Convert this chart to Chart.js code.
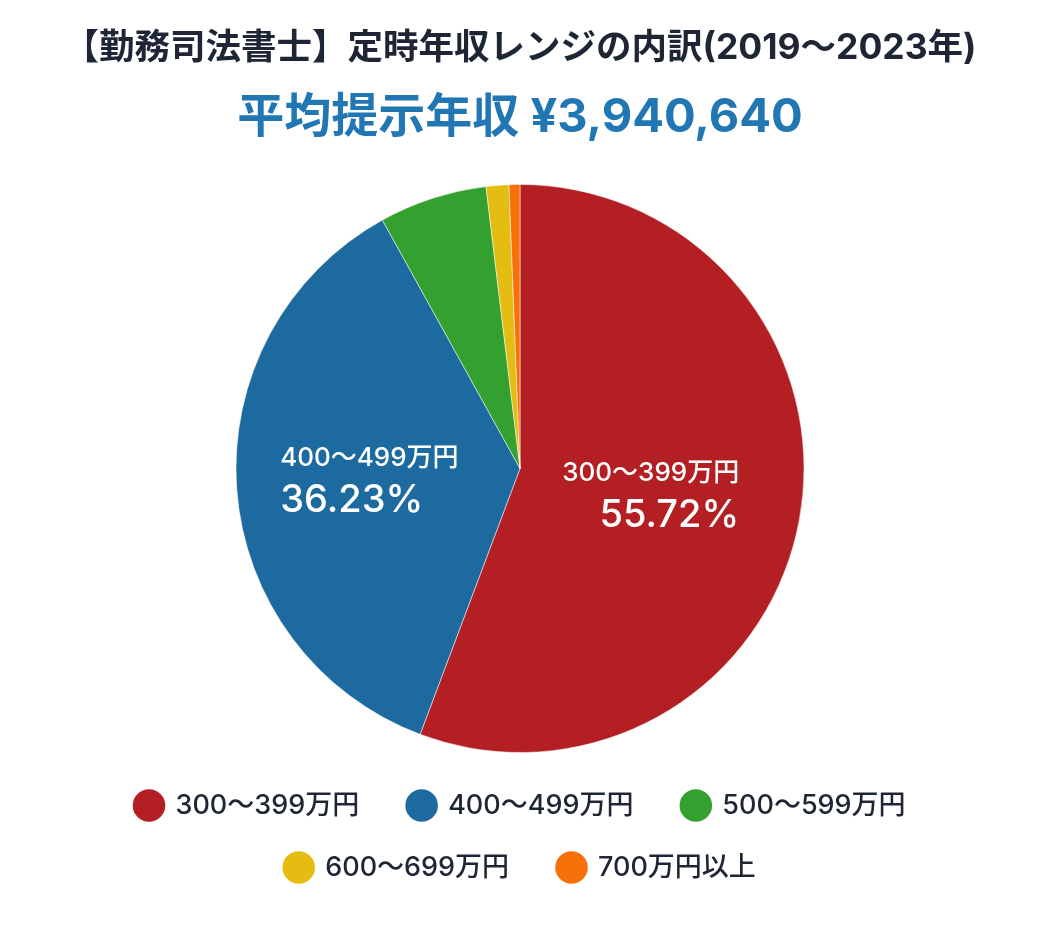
<!DOCTYPE html>
<html lang="ja">
<head>
<meta charset="utf-8">
<title>勤務司法書士 定時年収レンジの内訳</title>
<script src="https://cdn.jsdelivr.net/npm/chart.js@4.4.1/dist/chart.umd.min.js"></script>
<style>
  html, body { margin: 0; padding: 0; background: #fff; }
  #wrap { width: 1040px; height: 930px; }
</style>
</head>
<body>
<div id="wrap"><canvas id="chart1"></canvas></div>
<script>
const rangeLabels = ['300〜399万円', '400〜499万円', '500〜599万円', '600〜699万円', '700万円以上'];
const sharePercents = [55.72, 36.23, 6.14, 1.29, 0.62];
const sliceColors = ['#b31f22', '#1c6a9f', '#34a02f', '#e4bc12', '#f7700a'];
const chartTitle = '【勤務司法書士】定時年収レンジの内訳(2019〜2023年)';
const chartSubtitle = '平均提示年収 ¥3,940,640';
const labelMinPercent = 10;

(function() {
    if (!window.Chart) {
        return;
    }

    const fontFamily = 'Inter, "Noto Sans CJK JP", sans-serif';
    const textColor = '#1e2535';
    Chart.defaults.font.family = fontFamily;

    // name + percentage inside the big slices
    const sliceLabels = {
        id: 'sliceLabels',
        afterLayout(chart) {
            // trailing spaces in the legend texts pull the rows left, push them back
            chart.legend.left += 8;
            chart.legend.right += 8;
        },
        afterDatasetsDraw(chart) {
            const ctx = chart.ctx;
            const meta = chart.getDatasetMeta(0);
            const values = chart.data.datasets[0].data;
            const nameFont = '500 26px ' + fontFamily;
            const pctFont = '500 38px ' + fontFamily;

            ctx.save();
            ctx.fillStyle = '#fff';
            ctx.textBaseline = 'middle';
            meta.data.forEach((arc, i) => {
                if (values[i] < labelMinPercent) return;
                const pos = arc.tooltipPosition();
                const name = chart.data.labels[i];
                const pct = values[i].toFixed(2) + '%';

                ctx.font = nameFont;
                const nameW = ctx.measureText(name).width;
                ctx.font = pctFont;
                const pctW = ctx.measureText(pct).width;
                const blockW = Math.max(nameW, pctW);

                const cx = pos.x - 9;
                const onLeft = pos.x < arc.x;
                ctx.textAlign = onLeft ? 'left' : 'right';
                const tx = onLeft ? cx - blockW / 2 : cx + blockW / 2;

                ctx.font = nameFont;
                ctx.fillText(name, tx, pos.y - 21);
                ctx.font = pctFont;
                ctx.fillText(pct, tx, pos.y + 22);
            });
            ctx.restore();
        }
    };

    const data = {
        labels: rangeLabels,
        datasets: [{
            data: sharePercents,
            backgroundColor: sliceColors,
            borderColor: 'rgba(255, 255, 255, 0.5)',
            borderWidth: 1
        }]
    };

    const options = {
        responsive: true,
        maintainAspectRatio: false,
        animation: false,
        layout: {
            padding: { bottom: 39 }
        },
        plugins: {
            title: {
                display: true,
                text: chartTitle,
                color: textColor,
                font: { size: 35.5, weight: '700', lineHeight: 1.2 },
                padding: { top: 27, bottom: 0 }
            },
            subtitle: {
                display: true,
                text: chartSubtitle,
                color: '#2176b4',
                font: { size: 47, weight: '700', lineHeight: 1.2 },
                padding: { top: 20, bottom: 38 }
            },
            legend: {
                position: 'bottom',
                title: {
                    display: true,
                    text: '',
                    padding: 0,
                    font: { size: 4, lineHeight: 1 }
                },
                labels: {
                    usePointStyle: true,
                    pointStyle: 'circle',
                    boxWidth: 26,
                    boxHeight: 23,
                    padding: 35,
                    color: textColor,
                    font: { size: 27, weight: '500' },
                    generateLabels(chart) {
                        const ds = chart.data.datasets[0];
                        return chart.data.labels.map((label, i) => ({
                            text: label + '  ',
                            fillStyle: ds.backgroundColor[i],
                            strokeStyle: ds.backgroundColor[i],
                            lineWidth: 0,
                            pointStyle: 'circle',
                            hidden: false,
                            index: i,
                            fontColor: textColor
                        }));
                    }
                }
            },
            tooltip: { enabled: false }
        }
    };

    new Chart('chart1', { type: 'pie', data, options, plugins: [sliceLabels] });
})();
</script>
</body>
</html>
